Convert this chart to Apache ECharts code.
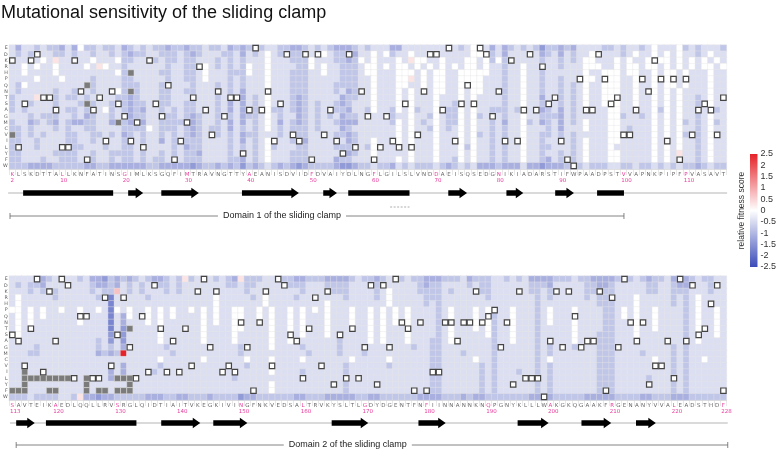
<!DOCTYPE html>
<html><head><meta charset="utf-8">
<script src="https://cdn.jsdelivr.net/npm/echarts/dist/echarts.min.js"></script>
<style>html,body{margin:0;padding:0;background:#fff}#c{width:779px;height:450px}</style>
</head><body><div id="c"></div>
<script>
// ---------------- DATA ----------------
const aminoRows = ['E','D','K','R','H','P','Q','N','T','S','A','G','M','C','V','I','L','Y','F','W'];

const seqStart1 = 2;
const seq1 = 'KLSKDTTALL KNFATINSGI MLKSGQFIMT RAVNGTTYAE ANISDVIDFD VAIYDLNGFL GILSLVNDDA EISQSEDGNI KIADARSTIF WPAADPSTVV APNKPIPFPV ASAVT';
const seqStart2 = 113;
const seq2 = 'SAVTEIKAED LQQLLRVSRG LQIDTIAITV KEGKIVINGF NKVEDSALTR VKYSLTLGDY DGENTFNFII NNANNKNQPG NYKLLLWAKG KQGAAKFRGE NANYVVALEA DSTHDF';

// cell codes: 0..6 = blue levels, p/q = faint/light red, r = strong red, x = no data
const levelValues = {'0':0,'1':-0.45,'2':-0.8,'3':-1.1,'4':-1.4,'5':-1.7,'6':-2.0,'p':0.3,'q':0.7,'r':2.5};

const panel1Rows = [
 '1311212231 3022122132 1212232232 2122132323 2112233212 1233321211 1331111111 2121011313 2121242232 3111122121 1210111021 21112',
 '1212111221 2112112123 2211222123 2111221312 1012122311 0122331101 0211011011 1111001213 1111132131 2110011121 0110101011 21011',
 '1111101p11 2110111022 1112122122 1112121211 1011122201 1122320101 1101p00110 1110010202 1111121121 2100111010 1101001010 10101',
 '1101011011 1101p01121 1111121122 2012121201 1011112201 0112221001 0100101010 1010010112 1101121121 1100011010 0100101010 10010',
 '1101111011 111111102x 1111221122 1011122201 1011122211 0112221001 1100010100 1100000112 1101121111 1101100010 0110100101 11011',
 '1111011101 1112111122 1111121122 1011121211 1011122211 1112221101 1100p10100 1100001112 1101121121 1100100011 0110p00101 11011',
 '1201111111 11x2111122 2111221112 1112121211 1011122211 1122221101 1100110100 1101001112 1101121121 2101100011 0110100101 11011',
 '1211111211 211211202x 2111221122 1112121311 1011122211 1121321101 1101010100 1101001112 1101121121 2101100011 0110101011 11011',
 '2111p11212 2121111223 2111221112 1112131312 1011123211 1113221101 1101011101 1101011112 1101131121 2101100011 0110101011 21011',
 '2112111211 12x2112123 2211221122 1112131312 1012123212 1123211101 1101011101 1201011112 1101122121 2101100011 0110101011 21011',
 '2121111312 2122102123 2311212122 1212131312 1022123212 1122311201 1201021101 2201011222 1201132131 2102110011 1110201011 21021',
 '1112122211 2132112113 2211322123 2112121322 1012113212 1213221111 1211011201 2201021212 1101122231 2111110021 1210101011 21011',
 '2113212312 3322113x23 2311222233 2112131312 1013123212 1123331111 1201012101 2201011213 1102132131 2101110011 1110101021 21021',
 '2212111212 1122111122 2201222123 2122131212 1012122212 1113211111 1101011201 2101011212 1101112131 1101110012 1110101011 21011',
 'x212121112 2112212132 1211212123 2112121322 1112122211 1122321111 1101011101 1101021212 1101122121 2111110011 1110101021 21011',
 '2211211112 2112111122 1211312122 2111121312 1011122311 1121321101 1201011101 1101011212 1201121121 2101110011 1110111011 21011',
 '2111211122 2211121122 1211112132 2111121212 1021112211 1122221201 1101011101 1102011212 1101122111 2101110111 1110101011 21011',
 '2211111222 2112112222 1211212122 3111121312 1011122211 1112321101 1111011101 1101011212 1101121121 2101110011 1110101p11 21011',
 '2211121122 2122112122 1212212122 2111122312 1011122211 1132211101 1101011101 1201011212 1101123121 2101110011 1110101011 21011',
 '2223333222 2233223333 3322333334 3223232423 2123234322 2234432212 2312122212 3212133323 3313343332 3212221122 1221212122 32122'
];

const panel2Rows = [
 '1111332111 1213342323 21233212p2 1212123p22 2112223322 2333321223 2112122333 2221322211 2121333322 2122333322 2123221333 212211',
 '1212231111 1112332312 1212221211 1111122122 1111122211 1222211112 1111112322 1111212211 1111222311 1112233211 1112211233 111211',
 '1112121211 1112122q12 1211121211 1112111121 1111111211 1122211112 1011112222 1211112211 1111221211 1112222211 1112211222 111211',
 '1011111211 1111215111 1121111111 1110111112 1011112111 1111211112 1011111222 1111111211 1111121211 1112122211 1011111212 101111',
 '1011111111 1111115111 1111111111 1110111111 1011111111 1011111111 1011111212 1111111111 1111121111 1111122211 1011111212 101111',
 '0010101101 1011015010 1101010110 1010110011 0101101010 1011101101 0101011112 1011101011 1011121011 1011112210 1011011112 101101',
 '1010101111 1011115130 1101010111 1010110011 0101101011 1011101101 0101011112 1011101021 1011121011 1011112210 1011011112 101101',
 '1010111111 1011115131 1101011111 1010110011 0101101011 1011101101 0101011112 1011101021 1011121011 1011112211 1011011112 101101',
 '1011111111 111111514x 1111011111 1011110011 1101101011 1011111101 0111011112 1011101021 1011121111 1011112211 1011011112 101101',
 '1011111111 1111114141 1111011111 1011110111 1101101011 1012111101 0111011112 1011111021 1011121111 1011122211 1011111112 101101',
 '1111111111 1111214141 1111011111 1011110111 1101101111 1112111101 0111011122 1011111121 1011121111 1011122211 1011111112 101111',
 '1111211111 1111212131 1111121111 1111111211 1101111211 1112111111 1111121122 1111111121 1111121211 1211122211 1111111212 111111',
 '1112211111 11113232r1 1111112111 1111111211 1111111121 1112111211 1111111122 1112111121 1111121211 1111122211 1121111212 111111',
 '1111111111 1111111111 1111011111 1011111101 1101111011 1111101111 1011111122 1111101121 1111121011 1111122211 1111011212 110111',
 '1111111111 1111113131 1111211111 1111111121 1101111111 1111211111 1211111122 1111112121 1111121211 1111122211 1111111212 111111',
 '11x1111111 1111113131 1112111111 1111111111 1101111211 1111211111 1111111122 1111112121 1121121211 1111122211 1111111212 111111',
 '11xxxxxxxx 11x1113xxx 1111111111 1111112111 1111111111 1111211111 1111111122 1111112121 1111121211 1111122211 1112111212 111111',
 '11x1111111 11x111111x 1111111111 1111111111 1101111111 1111211111 1111111122 1111112121 1111121211 1111122211 1111111212 111111',
 'xxx111xx11 11x1xx1xxx 1111111111 1111111111 1101111111 1111211111 1111111122 1111112121 1111121211 1111122211 1111111212 111111',
 '2221222211 2p33433222 2233322332 2232222433 2222223322 2333332233 2222223333 2223233222 2222333322 2223333322 2233222333 222222'
];

// secondary structure: [type, from residue, to residue]
const structure1 = [
 ['line',1.6,116.6],['helix',4,18.4],['strand',20.8,23.2],['strand',26.1,32.1],['strand',39,48.1],
 ['strand',52,54.2],['helix',56,65.8],['strand',72,75],['strand',81.3,84],['strand',89.1,92.1],
 ['helix',95.8,100.1],['dash',62.7,65.8]
];
const structure2 = [
 ['line',112.9,228.7],['strand',113.9,116.9],['helix',118.7,133.3],['strand',137.3,143.6],
 ['strand',145.7,151.2],['strand',164.8,170.7],['strand',178.8,183.2],['strand',194.8,199.8],
 ['strand',205.1,209.9],['strand',213.9,217.1]
];
// domains: [from, to, label]
const domains1 = [[1.9,100.1,'Domain 1 of the sliding clamp']];
const domains2 = [[113.9,228.7,'Domain 2 of the sliding clamp']];

// ---------------- BUILD ----------------
const errs = [];
function build(rows, seqStr, name){
  const seq = seqStr.replace(/ /g,'').split('');
  const heat=[], na=[], wt=[];
  rows.forEach((s,r)=>{
    const str = s.replace(/ /g,'');
    if (str.length !== seq.length) errs.push(name+' row '+r+' len '+str.length+'/'+seq.length);
    for (let i=0;i<str.length;i++){
      const c=str[i];
      if (c==='x') na.push([i,r]); else heat.push([i,r,levelValues[c]]);
    }
  });
  seq.forEach((a,i)=>wt.push([i, aminoRows.indexOf(a)]));
  return {seq, heat, na, wt};
}
const P1 = build(panel1Rows, seq1, 'p1');
const P2 = build(panel2Rows, seq2, 'p2');

const PINK = '#e83c9c';
function labelFmt(start, lastPink){
  return function(value, index){
    const pos = start + index;
    const pink = (index===0) || pos%10===0 || pos===lastPink;
    if (!pink) return '{a|'+value+'}';
    const s = String(pos);
    return '{p|'+value+'}\n{n'+s.length+'|'+s+'}';
  };
}
const richLabels = {
  a:{color:'#666',fontSize:5.5,fontFamily:'DejaVu Sans',lineHeight:7},
  p:{color:PINK,fontSize:5.5,fontFamily:'DejaVu Sans',lineHeight:7},
  n1:{color:PINK,fontSize:5.5,fontFamily:'DejaVu Sans',lineHeight:6,padding:[0,0,0,0]},
  n2:{color:PINK,fontSize:5.5,fontFamily:'DejaVu Sans',lineHeight:6,padding:[0,0,0,3]},
  n3:{color:PINK,fontSize:5.5,fontFamily:'DejaVu Sans',lineHeight:6,padding:[0,0,0,6]}
};

const L = 7.5, W = 719, H = 124;
const grids = [
  {left:L, top:45, width:W, height:H},
  {left:L, top:276, width:W, height:H},
  {left:L, top:180, width:W, height:45},
  {left:L, top:410, width:W, height:40},
  {left:750, top:154, width:10, height:113}
];

function catX(gi, seq, start, lastPink){
  return {type:'category', gridIndex:gi, data:seq, boundaryGap:true,
    axisLine:{show:true,lineStyle:{color:'#c8c8c8',width:0.6}},
    axisTick:{show:true,interval:0,length:6,lineStyle:{color:'#d0d0d0',width:0.5}},
    axisLabel:{interval:0,margin:2,formatter:labelFmt(start, lastPink),rich:richLabels},
    splitLine:{show:false}};
}
function catY(gi){
  return {type:'category', gridIndex:gi, data:aminoRows, inverse:true,
    axisLine:{show:false}, axisTick:{show:false},
    axisLabel:{fontSize:4.8,color:'#555',margin:1.5,interval:0,fontFamily:'DejaVu Sans'}};
}

function cellRect(api, fill, stroke, lw, inset){
  const p = api.coord([api.value(0), api.value(1)]);
  const s = api.size([1,1]);
  return {type:'rect', shape:{x:p[0]-s[0]/2+inset, y:p[1]-s[1]/2+inset, width:s[0]-2*inset, height:s[1]-2*inset},
    style:{fill:fill, stroke:stroke, lineWidth:lw}};
}

function structRender(list, yPix, dashY){
  return function(params, api){
    const d = list[params.dataIndex];
    const x1 = api.coord([d[1],0])[0], x2 = api.coord([d[2],0])[0];
    if (d[0]==='line') return {type:'line', shape:{x1:x1,y1:yPix,x2:x2,y2:yPix}, style:{stroke:'#b5b5b5',lineWidth:1}};
    if (d[0]==='helix') return {type:'rect', shape:{x:x1,y:yPix-2.7,width:x2-x1,height:5.4}, style:{fill:'#000'}};
    if (d[0]==='dash') return {type:'line', shape:{x1:x1,y1:dashY,x2:x2,y2:dashY}, style:{stroke:'#9a9a9a',lineWidth:0.8,lineDash:[2,1.5]}};
    const hl = Math.min(7.5, (x2-x1)*0.55);
    return {type:'polygon', shape:{points:[[x1,yPix-2.7],[x2-hl,yPix-2.7],[x2-hl,yPix-5.3],[x2,yPix],[x2-hl,yPix+5.3],[x2-hl,yPix+2.7],[x1,yPix+2.7]]}, style:{fill:'#000'}};
  };
}
function domainRender(list, yPix, textPos){
  return function(params, api){
    const d = list[params.dataIndex];
    const x1 = api.coord([d[0],0])[0], x2 = api.coord([d[1],0])[0];
    const tx = api.coord([textPos,0])[0];
    return {type:'group', children:[
      {type:'line', shape:{x1:x1,y1:yPix,x2:x2,y2:yPix}, style:{stroke:'#666',lineWidth:0.8}},
      {type:'line', shape:{x1:x1,y1:yPix-3,x2:x1,y2:yPix+3}, style:{stroke:'#666',lineWidth:0.8}},
      {type:'line', shape:{x1:x2,y1:yPix-3,x2:x2,y2:yPix+3}, style:{stroke:'#666',lineWidth:0.8}},
      {type:'text', x:tx, y:yPix, style:{text:d[2], fill:'#222', font:'9px "Liberation Sans", Arial, sans-serif',
        align:'center', verticalAlign:'middle', backgroundColor:'#fff', padding:[0,5]}}
    ]};
  };
}

const option = {
  animation:false,
  backgroundColor:'#fff',
  title:{text:'Mutational sensitivity of the sliding clamp', left:1, top:4, padding:0,
    textStyle:{fontSize:18, fontWeight:'normal', color:'#111', fontFamily:'Liberation Sans, Arial, sans-serif'}},
  grid:grids,
  xAxis:[
    catX(0, P1.seq, seqStart1, -1),
    catX(1, P2.seq, seqStart2, 228),
    {type:'value', gridIndex:2, min:1.5, max:116.5, show:false},
    {type:'value', gridIndex:3, min:112.5, max:228.5, show:false},
    {type:'category', gridIndex:4, data:['c'], show:false}
  ],
  yAxis:[
    catY(0), catY(1),
    {type:'value', gridIndex:2, min:0, max:1, show:false},
    {type:'value', gridIndex:3, min:0, max:1, show:false},
    {type:'value', gridIndex:4, min:-2.5, max:2.5, interval:0.5, position:'right',
      axisLine:{show:false}, axisTick:{show:false}, splitLine:{show:false},
      axisLabel:{fontSize:9, color:'#333', margin:3, fontFamily:'Liberation Sans, Arial, sans-serif'}},
    {type:'value', gridIndex:4, min:-2.5, max:2.5, position:'left',
      axisLine:{show:false}, axisTick:{show:false}, splitLine:{show:false}, axisLabel:{show:false},
      name:'relative fitness score', nameLocation:'middle', nameRotate:90, nameGap:4,
      nameTextStyle:{fontSize:8.5, color:'#333', fontFamily:'Liberation Sans, Arial, sans-serif'}}
  ],
  visualMap:{type:'continuous', show:false, min:-2.5, max:2.5, seriesIndex:[0,1], dimension:2,
    inRange:{color:['#3b4cb8','#ffffff','#e52229']}},
  series:[
    {type:'heatmap', xAxisIndex:0, yAxisIndex:0, data:P1.heat, itemStyle:{borderColor:'#e6e6e6',borderWidth:0.4}, emphasis:{disabled:true}},
    {type:'heatmap', xAxisIndex:1, yAxisIndex:1, data:P2.heat, itemStyle:{borderColor:'#e6e6e6',borderWidth:0.4}, emphasis:{disabled:true}},
    {type:'custom', xAxisIndex:0, yAxisIndex:0, data:P1.na, z:3, renderItem:(p,api)=>cellRect(api,'#7b7b7b','#e4e4e4',0.5,0)},
    {type:'custom', xAxisIndex:1, yAxisIndex:1, data:P2.na, z:3, renderItem:(p,api)=>cellRect(api,'#7b7b7b','#e4e4e4',0.5,0)},
    {type:'custom', xAxisIndex:0, yAxisIndex:0, data:P1.wt, z:4, renderItem:(p,api)=>cellRect(api,'#ffffff','#444',1.2,0.4)},
    {type:'custom', xAxisIndex:1, yAxisIndex:1, data:P2.wt, z:4, renderItem:(p,api)=>cellRect(api,'#ffffff','#444',1.2,0.4)},
    {type:'custom', xAxisIndex:2, yAxisIndex:2, data:structure1.map(d=>[d[1],d[2]]), renderItem:structRender(structure1,193,207)},
    {type:'custom', xAxisIndex:3, yAxisIndex:3, data:structure2.map(d=>[d[1],d[2]]), renderItem:structRender(structure2,423,437)},
    {type:'custom', xAxisIndex:2, yAxisIndex:2, data:domains1.map(d=>[d[0],d[1]]), renderItem:domainRender(domains1,216,45.4)},
    {type:'custom', xAxisIndex:3, yAxisIndex:3, data:domains2.map(d=>[d[0],d[1]]), renderItem:domainRender(domains2,445,167.4)},
    {type:'custom', xAxisIndex:4, yAxisIndex:4, data:[[0,0]], renderItem:function(params, api){
      const t = api.coord([0,2.5]), b = api.coord([0,-2.5]); const w = api.size([1,0])[0];
      return {type:'rect', shape:{x:t[0]-w/2, y:t[1], width:w, height:b[1]-t[1]},
        style:{fill:new echarts.graphic.LinearGradient(0,0,0,1,[{offset:0,color:'#e52229'},{offset:0.5,color:'#ffffff'},{offset:1,color:'#3b4cb8'}])}};
    }}
  ]
};
if (errs.length) option.graphic = [{type:'text', left:300, top:5, style:{text:errs.join('\n'), fill:'red', font:'10px sans-serif'}}];
const chart = echarts.init(document.getElementById('c'), null, {renderer:'canvas'});
chart.setOption(option);
</script>
</body></html>
